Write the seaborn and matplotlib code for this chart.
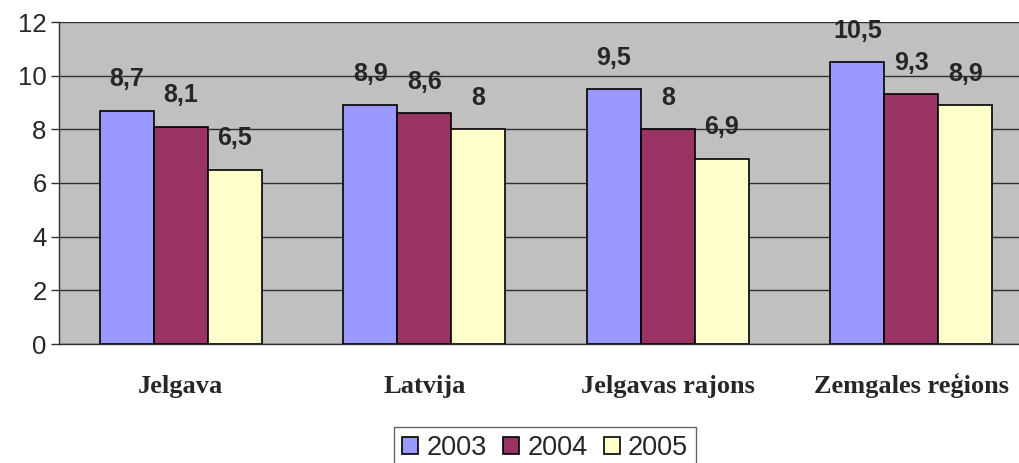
import matplotlib
matplotlib.use("Agg")
import matplotlib.pyplot as plt
import seaborn as sns
import pandas as pd
from matplotlib.patches import Patch

categories = ["Jelgava", "Latvija", "Jelgavas rajons", "Zemgales reģions"]
years = ["2003", "2004", "2005"]
values_2003 = [8.7, 8.9, 9.5, 10.5]
values_2004 = [8.1, 8.6, 8.0, 9.3]
values_2005 = [6.5, 8.0, 6.9, 8.9]
colors = ["#9999FF", "#993366", "#FFFFCC"]

rows = []
for yr, vals in zip(years, [values_2003, values_2004, values_2005]):
    for c, v in zip(categories, vals):
        rows.append({"region": c, "year": yr, "value": v})
df = pd.DataFrame(rows)

sns.set_style("white")
plt.rcParams['font.family'] = ['Liberation Sans', 'DejaVu Sans']

fig = plt.figure(figsize=(10.19, 4.63), dpi=100)
ax = fig.add_axes([59/1019, 1 - 344/463, (1033-59)/1019, (344-22)/463])
ax.set_facecolor("#C0C0C0")

sns.barplot(data=df, x="region", y="value", hue="year", order=categories,
            hue_order=years, palette=colors, width=0.665, edgecolor="black",
            linewidth=1.2, saturation=1, ax=ax, legend=False, zorder=3)

def fmt(v):
    return f"{v:g}".replace(".", ",")

for cont in ax.containers:
    for bar in cont:
        h = bar.get_height()
        ax.annotate(fmt(h), (bar.get_x() + bar.get_width()/2, h),
                    xytext=(0, 14), textcoords="offset points",
                    ha="center", va="bottom", fontsize=18, fontweight="bold",
                    zorder=5)

ax.set_ylim(0, 12)
ax.set_xlim(-0.5, 3.5)
ax.set_yticks(range(0, 13, 2))
ax.yaxis.grid(True, color="#303030", linewidth=1, zorder=0)
ax.set_axisbelow(True)
ax.tick_params(axis="y", direction="out", length=6, width=1, color="#303030",
               labelsize=18.5, left=True, pad=3)
ax.set_xticks(range(4))
ax.set_xticklabels(categories, fontfamily="Liberation Serif", fontweight="bold",
                   fontsize=19, va="baseline")
ax.tick_params(axis="x", length=0, pad=35)
ax.set_xticks([-0.5, 0.5, 1.5, 2.5, 3.5], minor=True)
ax.tick_params(axis="x", which="minor", direction="out", length=6, width=1,
               color="#303030")
ax.set_xlabel("")
ax.set_ylabel("")
for s in ["top", "right"]:
    ax.spines[s].set_visible(False)
for s in ["left", "bottom"]:
    ax.spines[s].set_color("#303030")
    ax.spines[s].set_linewidth(1)

handles = [Patch(facecolor=c, edgecolor="black", linewidth=1.2) for c in colors]
fig.legend(handles, years, loc="upper center", bbox_to_anchor=(545/1019, 1 - 427/463),
           ncol=3, frameon=True, fancybox=False, edgecolor="#404040",
           fontsize=19.5, handlelength=0.6, handleheight=0.6, handletextpad=0.3,
           columnspacing=0.6, borderpad=0.3, borderaxespad=0.0)

fig.savefig("out.png", dpi=100)
